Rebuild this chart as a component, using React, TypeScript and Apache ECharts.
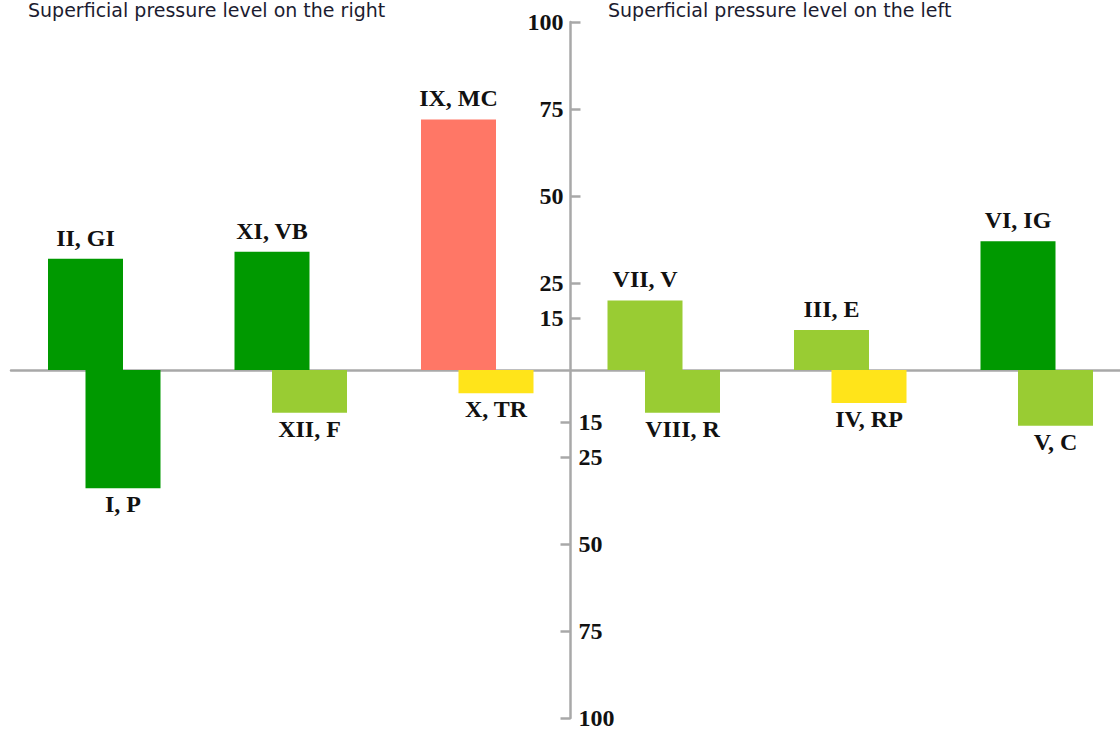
import React, { useEffect, useRef } from "react";
import * as echarts from "echarts";

const groups = ["G1", "G2", "G3", "G4", "G5", "G6"];
const upNames = ["II, GI", "XI, VB", "IX, MC", "VII, V", "III, E", "VI, IG"];
const upValues = [32, 34, 72, 20, 11.5, 37];
const upColors = ["#009900", "#009900", "#FF7766", "#99CC33", "#99CC33", "#009900"];
const downNames = ["I, P", "XII, F", "X, TR", "VIII, R", "IV, RP", "V, C"];
const downValues = [-34, -12.3, -6.7, -12.3, -9.5, -16];
const downColors = ["#009900", "#99CC33", "#FFE41A", "#99CC33", "#FFE41A", "#99CC33"];
const upperTicks = [100, 75, 50, 25, 15];
const lowerTicks = [-15, -25, -50, -75, -100];
const titles = ["Superficial pressure level on the right", "Superficial pressure level on the left"];

const AXIS_GREY = "#a8a8a8";
const LABEL_FONT = { fontFamily: "Liberation Serif", fontWeight: "bold" as const, fontSize: 24, color: "#111" };
const TITLE_STYLE = { fontFamily: "DejaVu Sans", fontSize: 19, fontWeight: "normal" as const, color: "#1c1c30" };

export default function App() {
  const ref = useRef<HTMLDivElement>(null);
  useEffect(() => {
    if (!ref.current) return;
    const chart = echarts.init(ref.current, null, { renderer: "svg" });
    chart.setOption({
      animation: false,
      backgroundColor: "#ffffff",
      title: [
        { text: titles[0], left: 28, top: 0, padding: 0, textStyle: TITLE_STYLE },
        { text: titles[1], left: 608, top: 0, padding: 0, textStyle: TITLE_STYLE },
      ],
      grid: { left: 11, width: 1119, top: 22, height: 696 },
      xAxis: {
        type: "category",
        data: groups,
        axisLine: { show: true, onZero: true, lineStyle: { color: AXIS_GREY, width: 2.5 } },
        axisTick: { show: false },
        axisLabel: { show: false },
        splitLine: { show: false },
      },
      yAxis: [
        {
          type: "value",
          min: -100,
          max: 100,
          position: "left",
          offset: -559.5,
          axisLine: { show: true, lineStyle: { color: AXIS_GREY, width: 2.5 } },
          axisTick: { show: true, inside: true, length: 10, customValues: upperTicks, lineStyle: { color: AXIS_GREY, width: 2.5 } },
          axisLabel: { show: true, customValues: upperTicks, margin: 7, ...LABEL_FONT },
          splitLine: { show: false },
        },
        {
          type: "value",
          min: -100,
          max: 100,
          position: "right",
          offset: -559.5,
          axisLine: { show: false },
          axisTick: { show: true, inside: true, length: 10, customValues: lowerTicks, lineStyle: { color: AXIS_GREY, width: 2.5 } },
          axisLabel: { show: true, customValues: lowerTicks, margin: 8, formatter: (v: number) => String(Math.abs(v)), ...LABEL_FONT },
          splitLine: { show: false },
        },
      ],
      series: [
        {
          type: "bar",
          name: "up",
          barWidth: 75,
          barGap: "-50%",
          data: upValues.map((v, i) => ({ value: v, name: upNames[i], itemStyle: { color: upColors[i] } })),
          label: { show: true, position: "top", distance: 9, formatter: (p: any) => upNames[p.dataIndex], ...LABEL_FONT },
        },
        {
          type: "bar",
          name: "down",
          barWidth: 75,
          barGap: "-50%",
          data: downValues.map((v, i) => ({ value: v, name: downNames[i], itemStyle: { color: downColors[i] } })),
          label: { show: true, position: "bottom", distance: 4, formatter: (p: any) => downNames[p.dataIndex], ...LABEL_FONT },
        },
      ],
    });
    return () => chart.dispose();
  }, []);
  return <div ref={ref} style={{ position: "fixed", left: 0, top: 0, width: 1140, height: 734 }} />;
}
